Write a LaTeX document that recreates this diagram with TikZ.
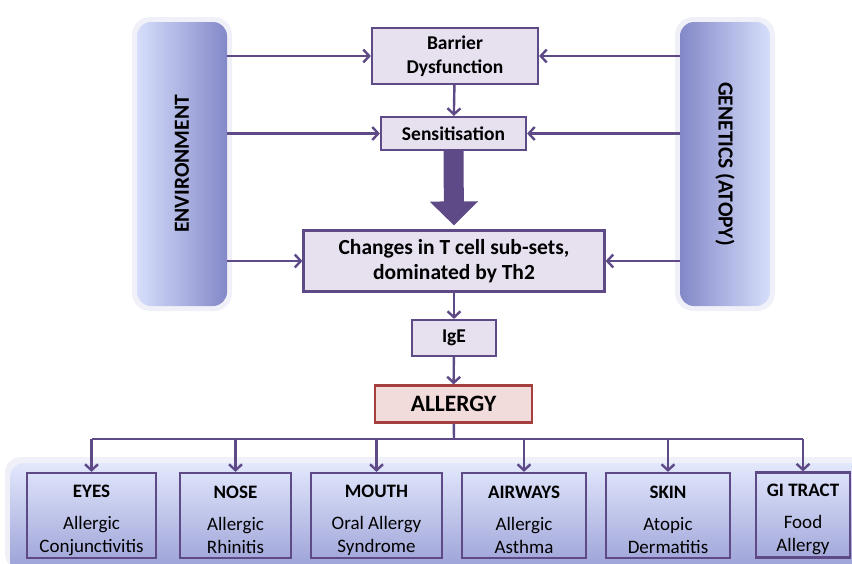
\documentclass[tikz,border=0pt]{standalone}
\usepackage{fontspec}
\setmainfont{Carlito}
\usetikzlibrary{positioning,arrows.meta,calc}
\definecolor{linkcol}{HTML}{5E4A86}
\definecolor{boxfill}{HTML}{E6E0EF}
\definecolor{allergyfill}{HTML}{F2DCDB}
\definecolor{allergyline}{HTML}{A3403F}
\definecolor{barlight}{HTML}{D6DEFB}
\definecolor{bardark}{HTML}{8388C8}
\newcommand{\fsz}[2]{\fontsize{#1}{#2}\selectfont}
% organ box text: title, then two lines
\newcommand{\organ}[3]{\rule{0pt}{22pt}\textbf{#1}\\[9pt]#2\\#3}

\begin{document}
\begin{tikzpicture}[x=1pt, y=-1pt,
  flowbox/.style={draw=linkcol, line width=2.2pt, fill=boxfill, align=center,
    font=\fsz{19.5}{24}\bfseries, inner sep=0pt},
  organbox/.style={draw=linkcol, line width=2.2pt, align=center,
    font=\fsz{19}{23}, inner sep=0pt, minimum height=85pt},
  sidebar/.style={rounded corners=14pt, minimum width=90pt, minimum height=284pt, inner sep=0pt},
  link/.style={draw=linkcol, line width=2.4pt, -{Straight Barb[length=6pt,width=13pt,line width=2.4pt]}},
  busline/.style={draw=linkcol, line width=2.4pt}]
\useasboundingbox (0,0) rectangle (852,563);

% soft halo round the two side bars
\foreach \cx in {182,725}
  \fill[bardark, opacity=0.12, rounded corners=18pt] (\cx-50,17) rectangle (\cx+50,311);

% side bars
\node[sidebar, left color=barlight, middle color=barlight, right color=bardark] (env) at (182,164) {};
\node[rotate=90, font=\fsz{21.5}{26}\bfseries] at (env) {ENVIRONMENT};
\node[sidebar, left color=bardark, middle color=barlight, right color=barlight] (gen) at (725,164) {};
\node[rotate=-90, font=\fsz{21.5}{26}\bfseries] at (gen) {GENETICS (ATOPY)};

% bottom band
\fill[bardark, opacity=0.12, rounded corners=16pt] (5,457) rectangle (870,570);
\shade[top color=barlight!70!white, bottom color=bardark!75!barlight, rounded corners=14pt]
  (10,463) rectangle (870,575);

% main chain
\node[flowbox, minimum width=166pt, minimum height=56pt] (barrier) at (455,56) {Barrier\\Dysfunction};
\node[flowbox, minimum width=145pt, minimum height=33pt] (sens) at (453.5,133.5) {Sensitisation};
\node[flowbox, minimum width=301pt, minimum height=61pt, font=\fsz{21.5}{25}\bfseries] (tcell) at (454,261)
  {Changes in T cell sub-sets,\\dominated by Th2};
\node[flowbox, minimum width=84pt, minimum height=36pt] (ige) at (454,338) {IgE};
\node[flowbox, draw=allergyline, fill=allergyfill, minimum width=157pt, minimum height=37pt,
  font=\fsz{23.5}{28}\bfseries] (allergy) at (453.5,404) {ALLERGY};

\draw[link] (barrier) -- (sens);
\draw[line width=20pt, linkcol, -{Triangle[length=24pt,width=47pt]}] (sens.south) -- ([yshift=4pt]tcell.north);
\draw[link] (tcell) -- (ige);
\draw[link] (ige) -- (allergy);

% inputs from the side bars
\foreach \n in {barrier, sens, tcell} {
  \draw[link] (env.east |- \n) -- (\n.west);
  \draw[link] (gen.west |- \n) -- (\n.east);
}

% organ boxes
\node[organbox, minimum width=129pt] (eyes) at (91.5,515.5) {\organ{EYES}{Allergic}{Conjunctivitis}};
\node[organbox, minimum width=111pt] (nose) at (235.5,515.5) {\organ{NOSE}{Allergic}{Rhinitis}};
\node[organbox, minimum width=131pt] (mouth) at (376.5,515.5) {\organ{MOUTH}{Oral Allergy}{Syndrome}};
\node[organbox, minimum width=124pt] (airways) at (524,515.5) {\organ{AIRWAYS}{Allergic}{Asthma}};
\node[organbox, minimum width=124pt] (skin) at (668,515.5) {\organ{SKIN}{Atopic}{Dermatitis}};
\node[organbox, minimum width=94pt] (gi) at (803,515) {\organ{GI TRACT}{Food}{Allergy}};

% branching bus
\coordinate (bus) at (454,439);
\draw[busline] (allergy) -- (bus);
\draw[busline] (eyes.north |- bus) -- (gi.north |- bus);
\foreach \n in {eyes, nose, mouth, airways, skin, gi}
  \draw[link] (\n.north |- bus) -- (\n.north);
\end{tikzpicture}
\end{document}
